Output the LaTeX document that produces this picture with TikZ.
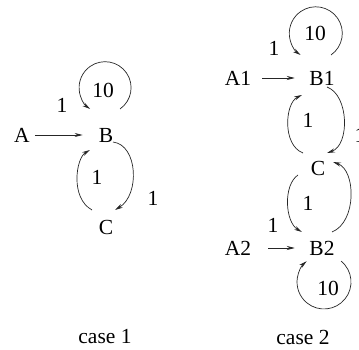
\documentclass[tikz,border=0pt]{standalone}
\usepackage{fontspec}
\setmainfont{Liberation Serif}
\usetikzlibrary{arrows.meta}
\begin{document}
\begin{tikzpicture}[x=1pt,y=-1pt,
  lbl/.style={font=\fontsize{21.5}{24}\selectfont, inner sep=0pt},
  arr/.style={-{Stealth[length=8pt,width=4pt]}, line width=0.7pt, black!85},
]
\useasboundingbox (0,0) rectangle (359,350);
% case 1
\node[lbl] (A) at (22,135) {A};
\node[lbl] (B) at (106,135) {B};
\node[lbl] (C) at (106,227) {C};
\draw[arr, shorten <=5pt, shorten >=16pt] (A) -- (B);
\draw[arr] ([shift={(14,-26)}]B.center) arc[start angle=55, end angle=-235, radius=26];
\draw[arr] ([shift={(7,7)}]B.center) .. controls +(25,3) and +(25,-15) .. ([shift={(9,-17)}]C.center);
\draw[arr] ([shift={(-14,-17)}]C.center) .. controls +(-22,-12) and +(-14,8) .. ([shift={(-16,15)}]B.center);
\node[lbl] (l1) at (62,105) {1};
\node[lbl] (l2) at (103,90) {10};
\node[lbl] (l3) at (153,198) {1};
\node[lbl] (l4) at (97,177) {1};
\node[lbl] (c1) at (105,337) {case 1};
% case 2
\node[lbl] (A1) at (238,78) {A1};
\node[lbl] (B1) at (322,78) {B1};
\node[lbl] (C2) at (318,168) {C};
\node[lbl] (A2) at (238,248) {A2};
\node[lbl] (B2) at (322,248) {B2};
\draw[arr, shorten <=11pt, shorten >=14.5pt] (A1) -- (B1);
\draw[arr, shorten <=17pt, shorten >=14.5pt] (A2) -- (B2);
\draw[arr] ([shift={(9,-23)}]B1.center) arc[start angle=55, end angle=-235, radius=26.5];
\draw[arr] ([shift={(19,13)}]B2.center) arc[start angle=-51, end angle=230, radius=27];
\draw[arr] ([shift={(5,9)}]B1.center) .. controls +(22,8) and +(23,-8) .. ([shift={(9,-15)}]C2.center);
\draw[arr] ([shift={(-15,-15)}]C2.center) .. controls +(-21,-8) and +(-17,8) .. ([shift={(-20,17)}]B1.center);
\draw[arr] ([shift={(-20,7)}]C2.center) .. controls +(-15,10) and +(-17,-10) .. ([shift={(-20,-16)}]B2.center);
\draw[arr] ([shift={(10,-16)}]B2.center) .. controls +(25,-10) and +(23,8) .. ([shift={(15,-6)}]C2.center);
\node[lbl] (m1) at (274,48) {1};
\node[lbl] (m2) at (315,33) {10};
\node[lbl] (m3) at (308,120) {1};
\node[lbl] (m4) at (360,135) {1};
\node[lbl] (m5) at (308,203) {1};
\node[lbl] (m6) at (273,225) {1};
\node[lbl] (m7) at (328,288) {10};
\node[lbl] (c2) at (303,337) {case 2};
\end{tikzpicture}
\end{document}
